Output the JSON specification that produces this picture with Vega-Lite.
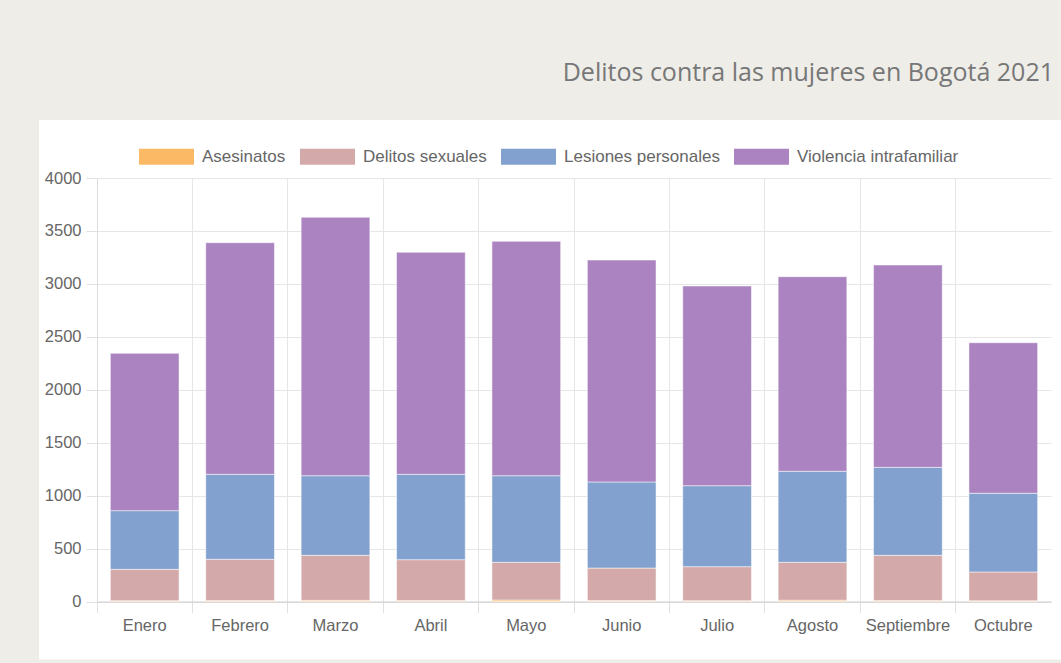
{
  "$schema": "https://vega.github.io/schema/vega-lite/v6.json",
  "autosize": {"type": "none"},
  "width": 954,
  "height": 423.5,
  "padding": {"left": 97, "top": 178, "right": 10, "bottom": 61.5},
  "background": "#EEEDE8",
  "title": {
    "text": "Delitos contra las mujeres en Bogotá 2021",
    "anchor": "end",
    "frame": "group",
    "font": "Open Sans",
    "fontSize": 25,
    "fontWeight": "normal",
    "color": "#777777",
    "offset": 43,
    "dx": 3
  },
  "config": {
    "view": {"fill": "white", "stroke": "white", "strokeWidth": 116},
    "axis": {
      "labelFont": "Liberation Sans",
      "labelFontSize": 16.5,
      "labelColor": "#666666",
      "gridColor": "#e6e6e6",
      "tickColor": "#e0e0e0",
      "domainColor": "#d0d0d0",
      "tickSize": 11,
      "labelPadding": 5,
      "title": null
    },
    "legend": {
      "labelFont": "Liberation Sans",
      "labelFontSize": 17,
      "labelColor": "#666666"
    }
  },
  "data": {
    "values": [
      {"mes": "Enero", "serie": "Asesinatos", "valor": 8},
      {"mes": "Enero", "serie": "Delitos sexuales", "valor": 296},
      {"mes": "Enero", "serie": "Lesiones personales", "valor": 554},
      {"mes": "Enero", "serie": "Violencia intrafamiliar", "valor": 1486},
      {"mes": "Febrero", "serie": "Asesinatos", "valor": 9},
      {"mes": "Febrero", "serie": "Delitos sexuales", "valor": 390},
      {"mes": "Febrero", "serie": "Lesiones personales", "valor": 802},
      {"mes": "Febrero", "serie": "Violencia intrafamiliar", "valor": 2188},
      {"mes": "Marzo", "serie": "Asesinatos", "valor": 11},
      {"mes": "Marzo", "serie": "Delitos sexuales", "valor": 425},
      {"mes": "Marzo", "serie": "Lesiones personales", "valor": 752},
      {"mes": "Marzo", "serie": "Violencia intrafamiliar", "valor": 2441},
      {"mes": "Abril", "serie": "Asesinatos", "valor": 10},
      {"mes": "Abril", "serie": "Delitos sexuales", "valor": 385},
      {"mes": "Abril", "serie": "Lesiones personales", "valor": 806},
      {"mes": "Abril", "serie": "Violencia intrafamiliar", "valor": 2097},
      {"mes": "Mayo", "serie": "Asesinatos", "valor": 14},
      {"mes": "Mayo", "serie": "Delitos sexuales", "valor": 356},
      {"mes": "Mayo", "serie": "Lesiones personales", "valor": 818},
      {"mes": "Mayo", "serie": "Violencia intrafamiliar", "valor": 2214},
      {"mes": "Junio", "serie": "Asesinatos", "valor": 9},
      {"mes": "Junio", "serie": "Delitos sexuales", "valor": 307},
      {"mes": "Junio", "serie": "Lesiones personales", "valor": 813},
      {"mes": "Junio", "serie": "Violencia intrafamiliar", "valor": 2096},
      {"mes": "Julio", "serie": "Asesinatos", "valor": 8},
      {"mes": "Julio", "serie": "Delitos sexuales", "valor": 321},
      {"mes": "Julio", "serie": "Lesiones personales", "valor": 765},
      {"mes": "Julio", "serie": "Violencia intrafamiliar", "valor": 1886},
      {"mes": "Agosto", "serie": "Asesinatos", "valor": 12},
      {"mes": "Agosto", "serie": "Delitos sexuales", "valor": 358},
      {"mes": "Agosto", "serie": "Lesiones personales", "valor": 860},
      {"mes": "Agosto", "serie": "Violencia intrafamiliar", "valor": 1838},
      {"mes": "Septiembre", "serie": "Asesinatos", "valor": 10},
      {"mes": "Septiembre", "serie": "Delitos sexuales", "valor": 426},
      {"mes": "Septiembre", "serie": "Lesiones personales", "valor": 831},
      {"mes": "Septiembre", "serie": "Violencia intrafamiliar", "valor": 1911},
      {"mes": "Octubre", "serie": "Asesinatos", "valor": 7},
      {"mes": "Octubre", "serie": "Delitos sexuales", "valor": 272},
      {"mes": "Octubre", "serie": "Lesiones personales", "valor": 743},
      {"mes": "Octubre", "serie": "Violencia intrafamiliar", "valor": 1422}
    ]
  },
  "mark": {"type": "bar", "stroke": "white", "strokeOpacity": 0.5, "strokeWidth": 1},
  "encoding": {
    "x": {
      "field": "mes",
      "type": "nominal",
      "sort": null,
      "scale": {"paddingInner": 0.28, "paddingOuter": 0.14},
      "axis": {"labelAngle": 0, "grid": true, "bandPosition": -0.194, "domainColor": "#cccccc"}
    },
    "y": {
      "field": "valor",
      "type": "quantitative",
      "aggregate": "sum",
      "stack": "zero",
      "scale": {"domain": [0, 4000], "nice": false},
      "axis": {"values": [0, 500, 1000, 1500, 2000, 2500, 3000, 3500, 4000], "format": "d", "domainColor": "#dddddd"}
    },
    "color": {
      "field": "serie",
      "type": "nominal",
      "scale": {
        "domain": ["Asesinatos", "Delitos sexuales", "Lesiones personales", "Violencia intrafamiliar"],
        "range": ["#FBB966", "#D4A9AA", "#82A1CE", "#AA83C0"]
      },
      "legend": {
        "title": null,
        "orient": "none",
        "direction": "horizontal",
        "legendX": 42,
        "legendY": -49,
        "symbolType": "M-1,-0.29H1V0.29H-1Z",
        "symbolSize": 3025,
        "symbolStrokeWidth": 0,
        "symbolOpacity": 1,
        "labelOffset": 8,
        "columnPadding": 14,
        "labelLimit": 300
      }
    },
    "order": {"field": "serie", "sort": "ascending"}
  }
}
